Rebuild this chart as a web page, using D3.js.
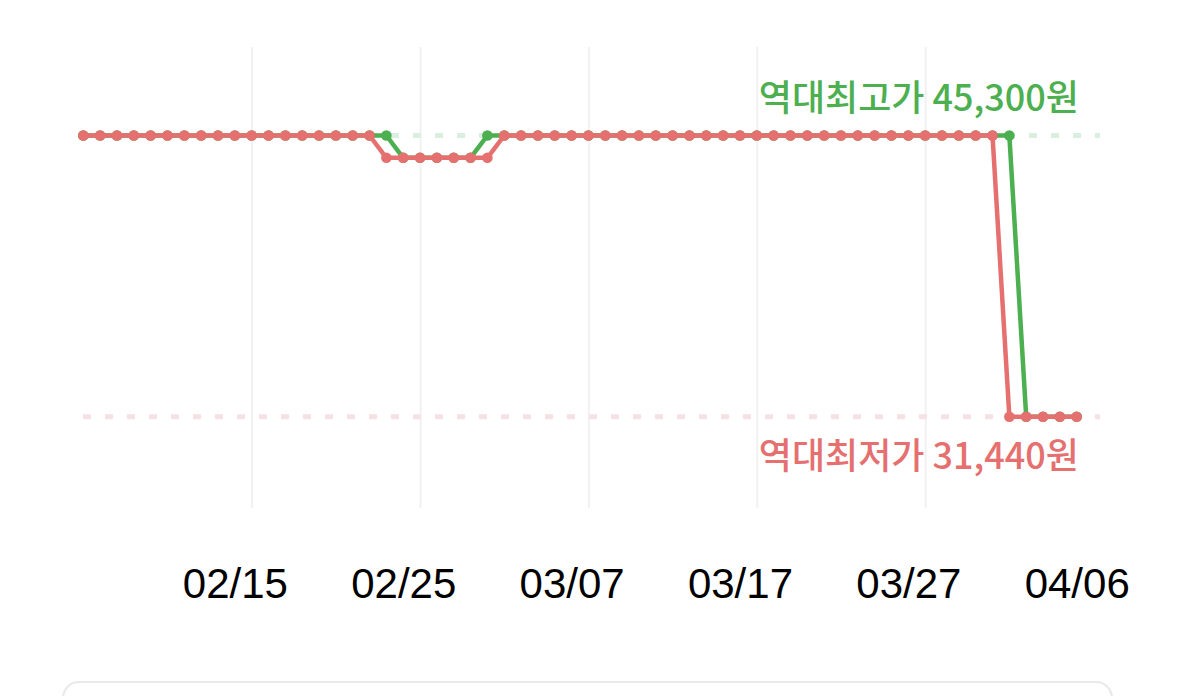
<!DOCTYPE html>
<html>
<head>
<meta charset="utf-8">
<script src="https://cdn.jsdelivr.net/npm/d3@7"></script>
<style>
  body { margin: 0; background: #fff; }
  svg { display: block; }
</style>
</head>
<body>
<div id="chartSpace"></div>
<script>
// days shown on the chart
const days = [
  "02/06","02/07","02/08","02/09","02/10","02/11","02/12","02/13","02/14","02/15",
  "02/16","02/17","02/18","02/19","02/20","02/21","02/22","02/23","02/24","02/25",
  "02/26","02/27","02/28","03/01","03/02","03/03","03/04","03/05","03/06","03/07",
  "03/08","03/09","03/10","03/11","03/12","03/13","03/14","03/15","03/16","03/17",
  "03/18","03/19","03/20","03/21","03/22","03/23","03/24","03/25","03/26","03/27",
  "03/28","03/29","03/30","03/31","04/01","04/02","04/03","04/04","04/05","04/06"
]

const greenPrices = [
  45300,45300,45300,45300,45300,45300,45300,45300,45300,45300,
  45300,45300,45300,45300,45300,45300,45300,45300,45300,44200,
  44200,44200,44200,44200,45300,45300,45300,45300,45300,45300,
  45300,45300,45300,45300,45300,45300,45300,45300,45300,45300,
  45300,45300,45300,45300,45300,45300,45300,45300,45300,45300,
  45300,45300,45300,45300,45300,45300,31440,31440,31440,31440
]

const redPrices = [
  45300,45300,45300,45300,45300,45300,45300,45300,45300,45300,
  45300,45300,45300,45300,45300,45300,45300,45300,44200,44200,
  44200,44200,44200,44200,44200,45300,45300,45300,45300,45300,
  45300,45300,45300,45300,45300,45300,45300,45300,45300,45300,
  45300,45300,45300,45300,45300,45300,45300,45300,45300,45300,
  45300,45300,45300,45300,45300,31440,31440,31440,31440,31440
]

const tickLabels = ["02/15","02/25","03/07","03/17","03/27","04/06"]
const gridDays = ["02/16","02/26","03/08","03/18","03/28"]

const highPrice = 45300
const lowPrice = 31440
const highLabel = "역대최고가 45,300원"
const lowLabel = "역대최저가 31,440원"

let width = 1179
let height = 696
let green = "#4caf50"
let red = "#e5706f"

let svg = d3.select("#chartSpace")
  .append("svg")
  .attr("width", width)
  .attr("height", height)

let x = d3.scalePoint().domain(days).range([83.3, 1076.7])
let y = d3.scaleLinear().domain([lowPrice, highPrice]).range([416.7, 135.5])

// vertical grid
let grid = svg.append("g")
  .attr("transform", "translate(0,508)")
  .call(d3.axisBottom(x).tickValues(gridDays).tickSize(-461).tickFormat(""))
grid.select(".domain").remove()
grid.selectAll("line").attr("stroke", "#f1f1f1").attr("stroke-width", 2)

// all-time high / low reference lines
svg.append("line")
  .attr("x1", 83).attr("x2", 1100)
  .attr("y1", y(highPrice)).attr("y2", y(highPrice))
  .attr("stroke", "#d9efe0").attr("stroke-width", 5)
  .attr("stroke-dasharray", "8 14")
svg.append("line")
  .attr("x1", 83).attr("x2", 1100)
  .attr("y1", y(lowPrice)).attr("y2", y(lowPrice))
  .attr("stroke", "#f6e1e4").attr("stroke-width", 5)
  .attr("stroke-dasharray", "8 14")

let line = d3.line()
  .x((d, i) => x(days[i]))
  .y(d => y(d))

function drawSeries(values, color) {
  svg.append("path")
    .datum(values)
    .attr("d", line)
    .attr("fill", "none")
    .attr("stroke", color)
    .attr("stroke-width", 4.5)
    .attr("stroke-linejoin", "round")
  svg.append("g")
    .selectAll("circle")
    .data(values)
    .enter().append("circle")
    .attr("cx", (d, i) => x(days[i]))
    .attr("cy", d => y(d))
    .attr("r", 5.3)
    .attr("fill", color)
}

drawSeries(greenPrices, green)
drawSeries(redPrices, red)

// labels
svg.append("text")
  .attr("x", 1079).attr("y", 111)
  .attr("text-anchor", "end")
  .style("font-family", "'Noto Sans CJK KR', sans-serif")
  .style("font-size", "36px")
  .style("font-weight", 500)
  .attr("fill", green)
  .text(highLabel)

svg.append("text")
  .attr("x", 1079).attr("y", 469)
  .attr("text-anchor", "end")
  .style("font-family", "'Noto Sans CJK KR', sans-serif")
  .style("font-size", "36px")
  .style("font-weight", 500)
  .attr("fill", red)
  .text(lowLabel)

// x axis
let xAxis = svg.append("g")
  .attr("transform", "translate(0,598)")
  .call(d3.axisBottom(x).tickValues(tickLabels).tickSize(0).tickPadding(0))
xAxis.select(".domain").remove()
xAxis.selectAll("text")
  .attr("dy", 0)
  .attr("fill", "#000")
  .style("font-family", "'Liberation Sans', Arial, sans-serif")
  .style("font-size", "42px")

// card box at the bottom
svg.append("rect")
  .attr("x", 63).attr("y", 682)
  .attr("width", 1049).attr("height", 80)
  .attr("rx", 16)
  .attr("fill", "#fff")
  .attr("stroke", "#e9e9e9")
  .attr("stroke-width", 2)
</script>
</body>
</html>
